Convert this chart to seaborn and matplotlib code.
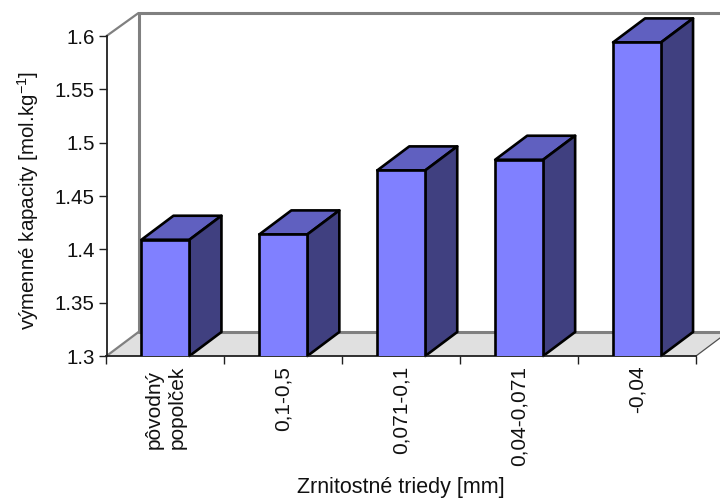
import matplotlib
matplotlib.use("Agg")
import matplotlib.pyplot as plt
from matplotlib.patches import Polygon
import pandas as pd
import seaborn as sn

# Chart Data
categories = ["pôvodný\npopolček", "0,1-0,5", "0,071-0,1", "0,04-0,071", "-0,04"]
values = [1.409, 1.414, 1.474, 1.484, 1.594]
y_ticks = [1.3, 1.35, 1.4, 1.45, 1.5, 1.55, 1.6]
y_tick_labels = ["1.3", "1.35", "1.4", "1.45", "1.5", "1.55", "1.6"]

# Figure Size In Pixels
W, H = 720, 501
DX, DY = 32, 24

sn.set_style("white")
plt.rcParams["font.family"] = ["Liberation Sans", "DejaVu Sans"]
plt.rcParams["mathtext.fontset"] = "custom"
plt.rcParams["mathtext.rm"] = "Liberation Sans"
plt.rcParams["mathtext.default"] = "regular"
plt.rcParams["text.color"] = "black"

fig = plt.figure(figsize=(W / 100, H / 100), dpi=100)
left, right, top, bottom = 106.5, 696, 36, 356
ax = fig.add_axes([left / W, 1 - bottom / H, (right - left) / W, (bottom - top) / H])
ax.patch.set_alpha(0)

data = pd.DataFrame({"group": categories, "value": values})
sn.barplot(data=data, x="group", y="value", color="#8080ff", saturation=1, width=0.407,
           edgecolor="black", linewidth=1.9, ax=ax, zorder=5)
bars = list(ax.patches)

ax.set_xlim(-0.5, 4.5)
ax.set_ylim(y_ticks[0], y_ticks[-1])


# Pixel Space Helper, y Goes Down Like In The Picture
def px(points):
    return [(x, H - y) for x, y in points]


def add_face(points, color, edge, lw, z):
    fig.add_artist(Polygon(px(points), closed=True, facecolor=color, edgecolor=edge, linewidth=lw,
                           transform=None, zorder=z, joinstyle="round", clip_on=False))


# Floor And Back Walls
gray = "#808080"
add_face([(left, bottom), (right, bottom), (right + DX, bottom - DY), (left + DX, bottom - DY)],
         "#e0e0e0", "none", 0, 0.5)
walls = [
    ([left, left + DX], [bottom, bottom - DY], 1.6),
    ([left + DX, left + DX], [bottom - DY, top - DY + 1], 2.2),
    ([left + DX, W], [top - DY + 1, top - DY + 1], 2.2),
    ([left, left + DX], [top, top - DY + 1], 1.6),
    ([left + DX, W], [bottom - DY, bottom - DY], 2.2),
]
for xs, ys, lw in walls:
    fig.add_artist(plt.Line2D(xs, [H - y for y in ys], color=gray, lw=lw, transform=None, zorder=0.6))
fig.add_artist(plt.Line2D([right, W], [H - bottom, H - (bottom - (W - right) * DY / DX)],
                          color="#505050", lw=0.9, transform=None, zorder=0.6))

# Top And Side Of Each Bar, Taken From The Bar Itself, Bars Start At 0 So Cut At The Axis
fig.canvas.draw()
for bar in bars:
    (x0, y0), (x1, y1) = ax.transData.transform(bar.get_bbox().get_points())
    y0, y1 = bottom, H - y1
    add_face([(x0, y1), (x1, y1), (x1 + DX, y1 - DY), (x0 + DX, y1 - DY)], "#6060c0", "black", 1.9, 3)
    add_face([(x1, y1), (x1 + DX, y1 - DY), (x1 + DX, y0 - DY), (x1, y0)], "#404080", "black", 1.9, 3)
ax.set_zorder(4)

# Axes Lines And Ticks
for side in ["top", "right"]:
    ax.spines[side].set_visible(False)
for side in ["left", "bottom"]:
    ax.spines[side].set_color("#202020")
    ax.spines[side].set_linewidth(1.3)

ax.set_yticks(y_ticks)
ax.set_yticklabels(y_tick_labels, fontsize=14.8, color="#111111")
ax.set_xticks([i + 0.5 for i in range(-1, 5)])
ax.set_xticklabels([])
ax.tick_params(axis="both", length=5.5, width=1.0, color="#202020", left=True, bottom=True, pad=3)

# Category Labels Sit Between The Ticks
for i, name in enumerate(categories):
    ax.annotate(name, (i, 0), xycoords=("data", "axes fraction"), xytext=(0, -7), textcoords="offset points",
                rotation=90, ha="center", va="top", fontsize=15, linespacing=1.27, multialignment="left",
                color="#111111")

ax.set_xlabel("")
ax.set_ylabel("")
fig.text(400.5 / W, 1 - 488 / H, "Zrnitostné triedy [mm]", ha="center", va="center", fontsize=15.5, color="#111111")
fig.text(28 / W, 1 - 200.5 / H, "výmenné kapacity [mol.kg$^{-1}$]", ha="center", va="center",
         rotation=90, fontsize=14.8, color="#111111")

fig.savefig("out.png", dpi=100)
